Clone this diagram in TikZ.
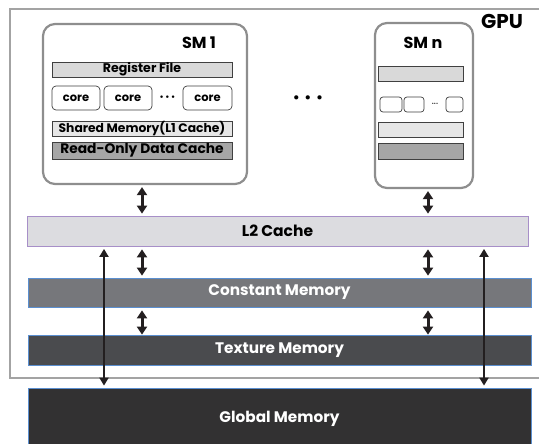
\documentclass[tikz,border=0pt]{standalone}
\usepackage{fontspec}
\setmainfont{Poppins}
\usetikzlibrary{arrows.meta}
\definecolor{gpuline}{HTML}{A3A3A3}
\definecolor{smline}{HTML}{8E8E8E}
\definecolor{barline}{HTML}{404040}
\definecolor{regfill}{HTML}{D9D9D9}
\definecolor{shfill}{HTML}{E6E6E6}
\definecolor{rofill}{HTML}{A6A6A6}
\definecolor{ltwofill}{HTML}{DCDCE0}
\definecolor{ltwoline}{HTML}{A78FC8}
\definecolor{memline}{HTML}{5B8FD0}
\definecolor{constfill}{HTML}{76777B}
\definecolor{texfill}{HTML}{4A4B4E}
\definecolor{globfill}{HTML}{323132}
\definecolor{arrcol}{HTML}{231F20}
\begin{document}
\begin{tikzpicture}[x=1pt, y=-1pt,
    smbox/.style={draw=smline, line width=2.2pt, rounded corners=12pt, fill=white, inner sep=0pt},
    bar/.style={draw=barline, line width=0.7pt, inner sep=0pt, font=\bfseries\fontsize{12.6}{13}\selectfont},
    corebox/.style={draw=barline, line width=0.7pt, rounded corners=4pt, fill=white, inner sep=0pt,
      minimum width=48pt, minimum height=24pt, font=\bfseries\fontsize{11.5}{12}\selectfont},
    tinybox/.style={draw=barline, line width=0.7pt, rounded corners=3pt, fill=white, inner sep=0pt, minimum height=15pt},
    membar/.style={draw=memline, line width=0.8pt, inner sep=0pt, minimum width=503pt, text=white,
      font=\bfseries\fontsize{15.3}{16}\selectfont},
    title/.style={font=\bfseries\fontsize{16}{17}\selectfont},
    arr/.style={arrcol, line width=3pt, {Triangle[width=10pt,length=8pt]}-{Triangle[width=10pt,length=8pt]}},
    longarr/.style={arrcol, line width=2.6pt, {Triangle[width=9pt,length=8pt]}-{Triangle[width=9pt,length=8pt]}}]
  \useasboundingbox (0,0) rectangle (539,444);

  % GPU chip
  \node[draw=gpuline, line width=2.6pt, minimum width=531pt, minimum height=369pt, inner sep=0pt] (gpu) at (275.5,193.5) {};
  \node[font=\bfseries\fontsize{20}{21}\selectfont] (gpulabel) at (502,21) {GPU};

  % SM 1
  \node[smbox, minimum width=204pt, minimum height=160pt] (sm1) at (145,104) {};
  \node[title] (sm1label) at (199,43) {SM 1};
  \node[bar, fill=regfill, minimum width=180pt, minimum height=15pt] (reg1) at (142,69.5) {Register File};
  \node[corebox] (core1) at (76,98) {core};
  \node[corebox] (core2) at (128,98) {core};
  \node[corebox, minimum width=49pt] (core3) at (207.5,98) {core};
  \node[font=\fontsize{10}{10}\selectfont] (cdots1) at (167.5,98) {\textbullet\,\textbullet\,\textbullet};
  \node[bar, fill=shfill, minimum width=180pt, minimum height=15pt, font=\bfseries\fontsize{12.3}{13}\selectfont] (sh1) at (142,128.5) {Shared Memory(L1 Cache)};
  \node[bar, fill=rofill, minimum width=180pt, minimum height=17pt, font=\bfseries\fontsize{13.8}{14}\selectfont] (ro1) at (142,150.5) {Read-Only Data Cache};

  % dots between the SMs
  \node[font=\fontsize{17}{17}\selectfont] (smdots) at (308,100) {\textbullet\ \textbullet\ \textbullet};

  % SM n
  \node[smbox, minimum width=98pt, minimum height=165pt] (smn) at (424,105.5) {};
  \node[title] (smnlabel) at (423,43) {SM n};
  \node[bar, fill=regfill, minimum width=85pt, minimum height=15pt] (regn) at (420.5,73.5) {};
  \node[tinybox, minimum width=22pt] (coren1) at (391,104.5) {};
  \node[tinybox, minimum width=20pt] (coren2) at (414,104.5) {};
  \node[tinybox, minimum width=17pt] (coren3) at (454.5,104.5) {};
  \node[font=\fontsize{5}{5}\selectfont] (cdotsn) at (435,104.5) {\textbullet\textbullet\textbullet};
  \node[bar, fill=shfill, minimum width=85pt, minimum height=15pt] (shn) at (420.5,129.5) {};
  \node[bar, fill=rofill, minimum width=85pt, minimum height=16pt] (ron) at (420.5,151) {};

  % memories
  \node[draw=ltwoline, line width=0.8pt, fill=ltwofill, minimum width=501pt, minimum height=30pt, inner sep=0pt,
    font=\bfseries\fontsize{15.5}{16}\selectfont] (l2) at (277.5,231) {L2 Cache};
  \node[membar, fill=constfill, minimum height=29pt] (const) at (279.5,292.5) {Constant Memory};
  \node[membar, fill=texfill, minimum height=30pt] (tex) at (279.5,350) {Texture Memory};
  \node[membar, fill=globfill, minimum height=62pt] (glob) at (279.5,419) {Global Memory};

  % arrow columns
  \coordinate (ca) at (142,0);
  \coordinate (cb) at (428,0);
  \coordinate (la) at (104,0);
  \coordinate (lb) at (484,0);

  \draw[arr, shorten <=2pt, shorten >=2pt] (ca |- sm1.south) -- (ca |- l2.north);
  \draw[arr, shorten <=2pt, shorten >=2pt] (cb |- smn.south) -- (cb |- l2.north);
  \draw[arr, shorten <=3pt, shorten >=2pt] (ca |- l2.south) -- (ca |- const.north);
  \draw[arr, shorten <=3pt, shorten >=2pt] (cb |- l2.south) -- (cb |- const.north);
  \draw[arr, shorten <=3pt, shorten >=0pt] (ca |- const.south) -- (ca |- tex.north);
  \draw[arr, shorten <=3pt, shorten >=0pt] (cb |- const.south) -- (cb |- tex.north);
  \draw[longarr, shorten <=2.5pt, shorten >=2pt] (la |- l2.south) -- (la |- glob.north);
  \draw[longarr, shorten <=2.5pt, shorten >=2pt] (lb |- l2.south) -- (lb |- glob.north);
\end{tikzpicture}
\end{document}
